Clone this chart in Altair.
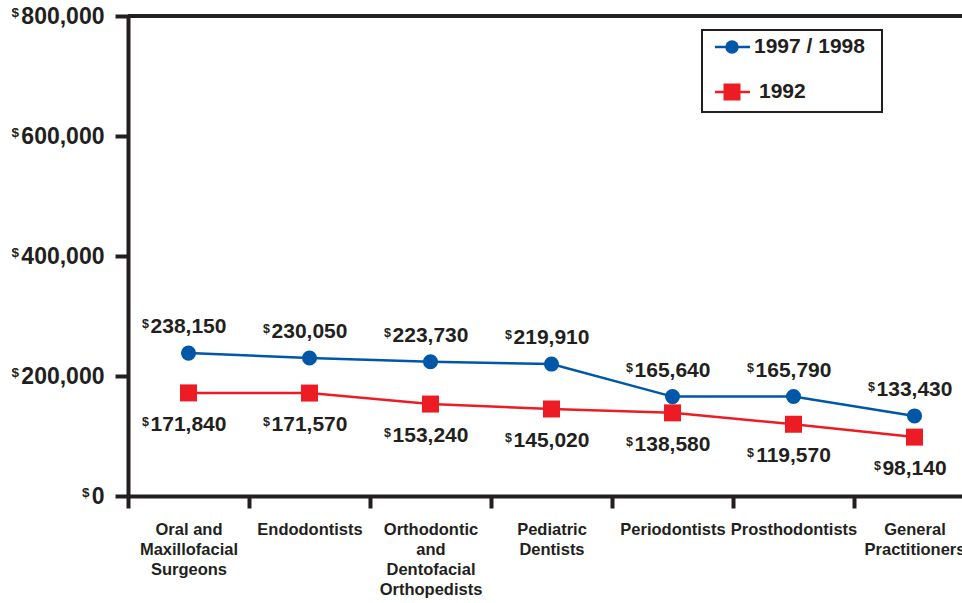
import altair as alt
import pandas as pd

# Mean net income by dental specialty
categories = [
    "Oral and\nMaxillofacial\nSurgeons",
    "Endodontists",
    "Orthodontic\nand\nDentofacial\nOrthopedists",
    "Pediatric\nDentists",
    "Periodontists",
    "Prosthodontists",
    "General\nPractitioners",
]
income_1997_98 = [238150, 230050, 223730, 219910, 165640, 165790, 133430]
income_1992 = [171840, 171570, 153240, 145020, 138580, 119570, 98140]
series_names = ["1997 / 1998", "1992"]
y_ticks = [0, 200000, 400000, 600000, 800000]

BLUE = "#0057a8"
RED = "#ed1c24"
INK = "#231f20"
FONT = "Liberation Sans"

df = pd.DataFrame({
    "category": categories * 2,
    "series": [series_names[0]] * len(categories) + [series_names[1]] * len(categories),
    "income": income_1997_98 + income_1992,
})
df["label"] = df["income"].map(lambda v: f"{v:,}")
ticks_df = pd.DataFrame({"income": y_ticks})
one = pd.DataFrame({"k": [0]})

x_enc = alt.X(
    "category:N",
    sort=categories,
    scale=alt.Scale(range=[0, 847], paddingInner=0, paddingOuter=0),
    axis=alt.Axis(
        title=None, labelExpr="split(datum.label, '\\n')", labelAngle=0,
        labelFont=FONT, labelFontSize=16.5, labelFontWeight="bold", labelColor=INK,
        labelLineHeight=20, labelBaseline="top", labelAlign="center", labelPadding=13,
        labelOverlap=False, labelLimit=0,
        tickSize=12, tickWidth=4, tickColor=INK, tickBand="extent",
        domainWidth=4, domainColor=INK, grid=False,
    ),
)
y_enc = alt.Y(
    "income:Q",
    scale=alt.Scale(domain=[0, 800000], nice=False, zero=True),
    axis=alt.Axis(
        title=None, values=y_ticks, labelExpr="format(datum.value, ',')",
        labelFont=FONT, labelFontSize=23, labelFontWeight="bold", labelColor=INK,
        labelPadding=11, tickSize=13, tickWidth=4, tickColor=INK,
        domainWidth=4, domainColor=INK, grid=False,
    ),
)

color_enc = alt.Color(
    "series:N", scale=alt.Scale(domain=series_names, range=[BLUE, RED]), legend=None
)

lines = alt.Chart(df).mark_line(strokeWidth=2.5).encode(x=x_enc, y=y_enc, color=color_enc)

circles = (
    alt.Chart(df).transform_filter(alt.datum.series == series_names[0])
    .mark_point(shape="circle", filled=True, opacity=1, size=227, color=BLUE)
    .encode(x=x_enc, y=y_enc)
)
squares = (
    alt.Chart(df).transform_filter(alt.datum.series == series_names[1])
    .mark_point(shape="square", filled=True, opacity=1, size=289, color=RED)
    .encode(x=x_enc, y=y_enc)
)


def value_labels(series, dy):
    base = alt.Chart(df).transform_filter(alt.datum.series == series)
    numbers = base.mark_text(
        font=FONT, fontSize=21, fontWeight="bold", color=INK,
        align="center", baseline="alphabetic", dy=dy,
    ).encode(x=x_enc, y=y_enc, text="label:N")
    sign_wide = base.transform_filter(alt.datum.income >= 100000).mark_text(
        font=FONT, fontSize=12.5, fontWeight="bold", color=INK, text="$",
        align="right", baseline="alphabetic", dx=-39.5, dy=dy - 5,
    ).encode(x=x_enc, y=y_enc)
    sign_narrow = base.transform_filter(alt.datum.income < 100000).mark_text(
        font=FONT, fontSize=12.5, fontWeight="bold", color=INK, text="$",
        align="right", baseline="alphabetic", dx=-33.6, dy=dy - 5,
    ).encode(x=x_enc, y=y_enc)
    return [numbers, sign_wide, sign_narrow]


# superscript dollar signs in front of the y-axis labels
y_sign_wide = alt.Chart(ticks_df).transform_filter(alt.datum.income > 0).mark_text(
    font=FONT, fontSize=13.5, fontWeight="bold", color=INK, text="$",
    align="right", baseline="middle", dy=-3.5,
).encode(x=alt.value(-109), y=y_enc)
y_sign_zero = alt.Chart(ticks_df).transform_filter(alt.datum.income == 0).mark_text(
    font=FONT, fontSize=13.5, fontWeight="bold", color=INK, text="$",
    align="right", baseline="middle", dy=-3.5,
).encode(x=alt.value(-38.5), y=y_enc)

top_rule = alt.Chart(pd.DataFrame({"income": [800000]})).mark_rule(
    strokeWidth=4, color=INK
).encode(y=y_enc, x=alt.value(0), x2=alt.value(847))

# legend box
legend_box = alt.Chart(one).mark_rect(fill="white", stroke=INK, strokeWidth=2).encode(
    x=alt.value(574), x2=alt.value(754), y=alt.value(14), y2=alt.value(96)
)
leg_blue_line = alt.Chart(one).mark_rule(color=BLUE, strokeWidth=2.5).encode(
    x=alt.value(587), x2=alt.value(622), y=alt.value(31)
)
leg_blue_pt = alt.Chart(one).mark_point(
    shape="circle", filled=True, opacity=1, size=180, color=BLUE
).encode(x=alt.value(604), y=alt.value(31))
leg_blue_txt = alt.Chart(one).mark_text(
    font=FONT, fontSize=21, fontWeight="bold", color=INK, align="left", baseline="middle",
    text=series_names[0],
).encode(x=alt.value(626), y=alt.value(31))
leg_red_line = alt.Chart(one).mark_rule(color=RED, strokeWidth=2.5).encode(
    x=alt.value(587), x2=alt.value(622), y=alt.value(76)
)
leg_red_pt = alt.Chart(one).mark_point(
    shape="square", filled=True, opacity=1, size=289, color=RED
).encode(x=alt.value(604), y=alt.value(76))
leg_red_txt = alt.Chart(one).mark_text(
    font=FONT, fontSize=21, fontWeight="bold", color=INK, align="left", baseline="middle",
    text=series_names[1],
).encode(x=alt.value(631), y=alt.value(76))

chart = alt.layer(
    lines, circles, squares,
    *value_labels(series_names[0], -20),
    *value_labels(series_names[1], 38),
    y_sign_wide, y_sign_zero, top_rule,
    legend_box, leg_blue_line, leg_blue_pt, leg_blue_txt,
    leg_red_line, leg_red_pt, leg_red_txt,
).properties(
    width=834, height=480,
    autosize=alt.AutoSizeParams(type="none"),
    padding={"left": 128, "top": 16, "right": 0, "bottom": 107},
    background="white",
).configure_view(stroke=None)

chart.save("out.html", embed_options={"renderer": "svg", "actions": False})
